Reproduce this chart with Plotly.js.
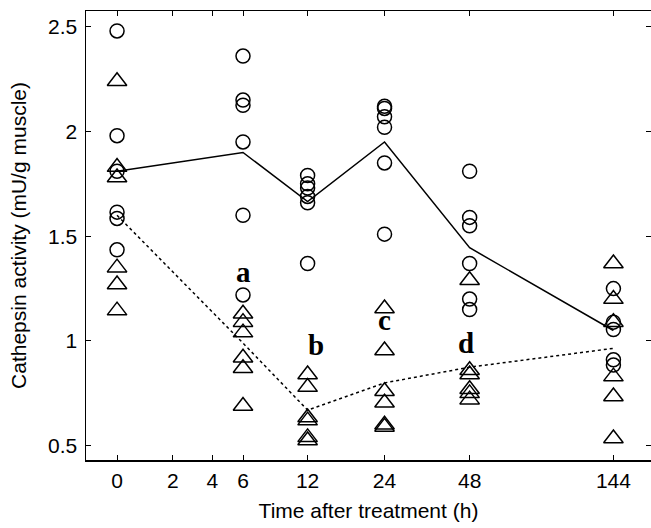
<!DOCTYPE html>
<html><head><meta charset="utf-8">
<script src="https://cdn.plot.ly/plotly-3.0.1.min.js"></script>
<style>html,body{margin:0;padding:0;background:#fff}</style>
</head><body><div id="chart" style="width:651px;height:528px"></div>
<script>
// Sampling times (h)
const times = [0, 6, 12, 24, 48, 144];
// Axis tick labels (h)
const tickTimes = [0, 2, 4, 6, 12, 24, 48, 144];
// Axis is log(time + offset)
const axisOffset = 4;

// Individual values, circles (one list per sampling time)
const circleValues = [
  [2.48, 1.98, 1.81, 1.615, 1.585, 1.435],
  [2.36, 2.15, 2.125, 1.95, 1.60, 1.22],
  [1.79, 1.75, 1.73, 1.69, 1.66, 1.37],
  [2.12, 2.11, 2.07, 2.02, 1.85, 1.51],
  [1.81, 1.59, 1.55, 1.37, 1.20, 1.15],
  [1.25, 1.09, 1.055, 0.91, 0.885]
];
// Individual values, triangles
const triangleValues = [
  [2.24, 1.83, 1.78, 1.35, 1.27, 1.145],
  [1.13, 1.09, 1.04, 0.92, 0.87, 0.69],
  [0.84, 0.78, 0.635, 0.62, 0.54, 0.525],
  [1.155, 0.955, 0.76, 0.705, 0.60, 0.59],
  [1.29, 0.86, 0.84, 0.77, 0.75, 0.72],
  [1.37, 1.20, 1.09, 0.83, 0.735, 0.535]
];
// Mean lines
const circleMeans = [1.81, 1.90, 1.665, 1.95, 1.445, 1.05];
const triangleMeans = [1.60, 0.99, 0.67, 0.80, 0.875, 0.965];

// Significance letters
const letterText = ['a', 'b', 'c', 'd'];
const letterTime = [6, 12, 24, 48];
const letterValue = [1.33, 0.98, 1.10, 0.99];
const letterShift = [0, 8, 0, -4];

const pos = t => t + axisOffset;

function flatten(groups) {
  const xs = [], ys = [];
  groups.forEach((g, i) => g.forEach(v => { xs.push(pos(times[i])); ys.push(v); }));
  return {xs, ys};
}
const c = flatten(circleValues);
const tr = flatten(triangleValues);

const data = [
  {x: times.map(pos), y: circleMeans, mode: 'lines', type: 'scatter',
   line: {color: '#000', width: 1.5}, hoverinfo: 'skip'},
  {x: times.map(pos), y: triangleMeans, mode: 'lines', type: 'scatter',
   line: {color: '#000', width: 1.5, dash: 'dot'}, hoverinfo: 'skip'},
  {x: c.xs, y: c.ys, mode: 'markers', type: 'scatter',
   marker: {symbol: 'circle-open', size: 14, color: '#000', line: {width: 1.5, color: '#000'}}},
  {x: tr.xs, y: tr.ys, mode: 'markers', type: 'scatter',
   marker: {symbol: 'triangle-up-open', size: 17, color: '#000', line: {width: 1.5, color: '#000'}}}
];

const annotations = letterText.map((t, i) => ({
  text: t, x: Math.log10(pos(letterTime[i])), y: letterValue[i],
  xref: 'x', yref: 'y', showarrow: false, xshift: letterShift[i],
  font: {family: 'Liberation Serif, Times New Roman, serif', size: 29, color: '#000', weight: 'bold'}
}));

const layout = {
  width: 651, height: 528,
  margin: {l: 86, r: 0, t: 11, b: 68},
  paper_bgcolor: '#fff', plot_bgcolor: '#fff',
  showlegend: false,
  font: {family: 'Liberation Sans, Arial, sans-serif', size: 21, color: '#000'},
  xaxis: {
    type: 'log', range: [0.504, 2.289],
    tickvals: tickTimes.map(pos), ticktext: tickTimes.map(String),
    ticks: 'inside', ticklen: 5, tickwidth: 1, tickcolor: '#000',
    showline: true, mirror: 'ticks', linecolor: '#000', linewidth: 1.5,
    showgrid: false, zeroline: false, ticklabelstandoff: 1,
    tickfont: {size: 21},
    title: {text: 'Time after treatment (h)', font: {size: 21}, standoff: 12}
  },
  yaxis: {
    range: [0.432, 2.575],
    tickvals: [0.5, 1, 1.5, 2, 2.5], ticktext: ['0.5', '1', '1.5', '2', '2.5'],
    ticks: 'inside', ticklen: 5, tickwidth: 1, tickcolor: '#000',
    showline: true, mirror: 'ticks', linecolor: '#000', linewidth: 1.5,
    showgrid: false, zeroline: false, ticklabelstandoff: 3,
    tickfont: {size: 21},
    title: {text: 'Cathepsin activity (mU/g muscle)', font: {size: 21}, standoff: 15}
  },
  annotations: annotations
};

Plotly.newPlot('chart', data, layout, {displayModeBar: false, staticPlot: true});
</script>
</body></html>
